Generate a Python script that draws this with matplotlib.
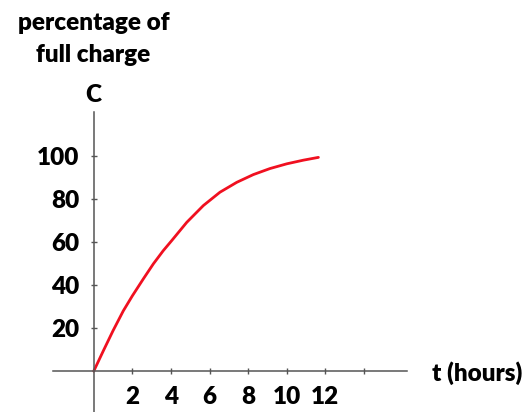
import matplotlib
matplotlib.use("Agg")
import matplotlib.pyplot as plt

# Data
t_hours = [0, 0.5, 1.0, 1.53, 2.0, 2.57, 3.09, 3.6, 4.04, 4.82, 5.68, 6.54,
           7.41, 8.27, 9.13, 10.0, 10.86, 11.64]
charge = [0, 9.5, 18.8, 28, 35, 42.9, 49.9, 56, 60.7, 69.2, 77, 83.2,
          87.8, 91.4, 94.2, 96.4, 98.1, 99.4]
x_ticks = [2, 4, 6, 8, 10, 12, 14]
x_tick_labels = ["2", "4", "6", "8", "10", "12", ""]
y_ticks = [20, 40, 60, 80, 100]
y_tick_labels = ["20", "40", "60", "80", "100"]

W, H = 531, 412
fig = plt.figure(figsize=(W / 100, H / 100), dpi=100)
plt.rcParams['font.family'] = ['Lato', 'DejaVu Sans']

ax = fig.add_axes([53 / W, 0, 354 / W, 300 / H])
ax.set_xlim(-2.11, 16.23)
ax.set_ylim(-19.0, 120.5)

axis_color = "#555555"
for s in ["top", "right"]:
    ax.spines[s].set_visible(False)
ax.spines["left"].set_position(("data", 0))
ax.spines["bottom"].set_position(("data", 0))
for s in ["left", "bottom"]:
    ax.spines[s].set_color(axis_color)
    ax.spines[s].set_linewidth(1.1)

ax.plot(t_hours, charge, color="#f01020", linewidth=2.0, solid_capstyle="round",
        solid_joinstyle="round")

FS = 17.5
W8 = "heavy"
ax.set_xticks(x_ticks)
ax.set_xticklabels(x_tick_labels)
ax.set_yticks(y_ticks)
ax.set_yticklabels(y_tick_labels)
ax.tick_params(axis="both", direction="inout", length=5, width=1.0, color=axis_color,
               labelsize=FS)
ax.tick_params(axis="x", pad=8)
ax.tick_params(axis="y", pad=8)
for lab in ax.get_xticklabels() + ax.get_yticklabels():
    lab.set_fontweight(W8)

fig.text(94 / W, 1 - 23 / H, "percentage of", ha="center", va="center",
         fontsize=FS, fontweight=W8)
fig.text(93 / W, 1 - 55 / H, "full charge", ha="center", va="center",
         fontsize=FS, fontweight=W8)
fig.text(93 / W, 1 - 95 / H, "C", ha="center", va="center",
         fontsize=FS, fontweight=W8)
fig.text(432 / W, 1 - 373 / H, "t (hours)", ha="left", va="center",
         fontsize=FS, fontweight=W8)

fig.savefig("out.png", dpi=100)
